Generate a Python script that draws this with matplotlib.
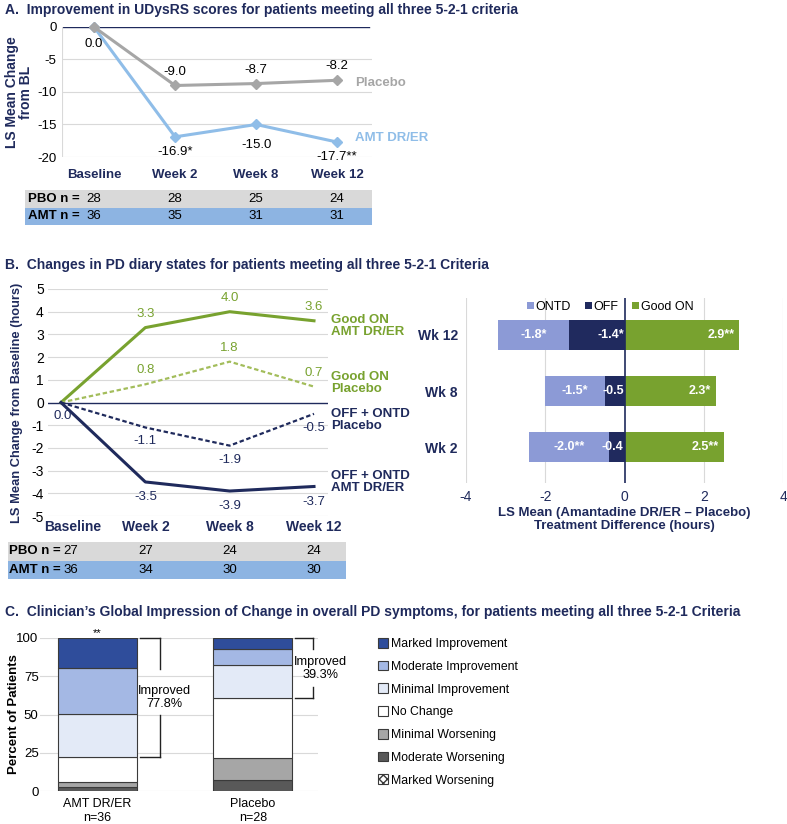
import matplotlib
matplotlib.use("Agg")
import matplotlib.pyplot as plt
import matplotlib.transforms as mtransforms
from matplotlib.patches import Patch
import numpy as np

plt.rcParams['font.family'] = ['Liberation Sans', 'DejaVu Sans']

#%% data
weeks = ['Baseline', 'Week 2', 'Week 8', 'Week 12']

# A. UDysRS
udysrs_pbo = [0.0, -9.0, -8.7, -8.2]
udysrs_amt = [0.0, -16.9, -15.0, -17.7]
udysrs_amt_sig = ['', '*', '', '**']
udysrs_n_pbo = [28, 28, 25, 24]
udysrs_n_amt = [36, 35, 31, 31]

# B. PD diary
goodon_amt = [0.0, 3.3, 4.0, 3.6]
goodon_pbo = [0.0, 0.8, 1.8, 0.7]
offontd_pbo = [0.0, -1.1, -1.9, -0.5]
offontd_amt = [0.0, -3.5, -3.9, -3.7]
diary_n_pbo = [27, 27, 24, 24]
diary_n_amt = [36, 34, 30, 30]

diff_weeks = ['Wk 2', 'Wk 8', 'Wk 12']
diff_ontd = [-2.0, -1.5, -1.8]
diff_off = [-0.4, -0.5, -1.4]
diff_goodon = [2.5, 2.3, 2.9]
diff_ontd_sig = ['**', '*', '*']
diff_off_sig = ['', '', '*']
diff_goodon_sig = ['**', '*', '**']

# C. CGI-C
cgic_groups = ['AMT DR/ER\nn=36', 'Placebo\nn=28']
cgic_categories = ['Marked Worsening', 'Moderate Worsening', 'Minimal Worsening', 'No Change',
                   'Minimal Improvement', 'Moderate Improvement', 'Marked Improvement']
cgic_amt = [0.0, 2.8, 2.8, 16.7, 27.8, 30.6, 19.4]
cgic_pbo = [0.0, 7.1, 14.3, 39.3, 21.4, 10.7, 7.1]
improved_pct = [77.8, 39.3]

#%% styles
navy = '#1f2a5c'
grid_c = '#d9d9d9'
pbo_gray = '#a6a6a6'
amt_blue = '#8fbde8'
row_gray = '#d9d9d9'
row_blue = '#8db4e2'
green = '#78a22f'
green_lt = '#a3bd5b'
ontd_c = '#8c9ad6'
off_c = '#202a5e'
cgic_colors = ['white', '#595959', '#a6a6a6', 'white', '#e3eaf7', '#a4b8e4', '#2f4d9b']
cgic_hatch = ['xxxx', None, None, None, None, None, None]

W, H = 787, 824
fig = plt.figure(figsize=(W / 100, H / 100), dpi=100)


def px_axes(x0, y0, x1, y1):
    ax = fig.add_axes([x0 / W, 1 - y1 / H, (x1 - x0) / W, (y1 - y0) / H])
    for s in ax.spines.values():
        s.set_visible(False)
    return ax


def fig_text(x, y, s, **kw):
    fig.text(x / W, 1 - y / H, s, **kw)


x = np.arange(len(weeks))

#%% Panel A
fig_text(5, 10, 'A.  Improvement in UDysRS scores for patients meeting all three 5-2-1 criteria',
         fontsize=10, fontweight='bold', color=navy, va='center')

axA = px_axes(62, 27, 372, 157)
axA.set_xlim(-0.395, 3.43)
axA.set_ylim(-20, 0)
axA.set_yticks([0, -5, -10, -15, -20])
axA.set_yticklabels(['0', '-5', '-10', '-15', '-20'], fontsize=9.5)
for v in [-5, -10, -15, -20]:
    axA.axhline(v, color=grid_c, lw=0.8, zorder=0)
axA.axhline(0, color=navy, lw=1, zorder=1, xmax=0.99)
axA.axvline(-0.395, color=grid_c, lw=0.8)
axA.tick_params(axis='y', length=0, pad=4)
axA.tick_params(axis='x', length=0, pad=9)
axA.set_xticks(x)
axA.set_xticklabels(weeks, fontsize=9.5, fontweight='bold', color=navy)
axA.plot(x, udysrs_amt, color=amt_blue, lw=2.2, marker='D', ms=5, clip_on=False, zorder=3)
axA.plot(x, udysrs_pbo, color=pbo_gray, lw=2.2, marker='D', ms=5, clip_on=False, zorder=4)
axA.annotate('0.0', (0, 0), xytext=(0, -12), textcoords='offset points',
             ha='center', va='center', fontsize=9.5)
for i in range(1, 4):
    axA.annotate(f'{udysrs_pbo[i]:.1f}', (i, udysrs_pbo[i]), xytext=(0, 10),
                 textcoords='offset points', ha='center', va='center', fontsize=9.5)
    off = -11 if i != 2 else -15
    axA.annotate(f'{udysrs_amt[i]:.1f}{udysrs_amt_sig[i]}', (i, udysrs_amt[i]), xytext=(0, off),
                 textcoords='offset points', ha='center', va='center', fontsize=9.5)
axA.text(3.22, -8.6, 'Placebo', color=pbo_gray, fontsize=9.5, fontweight='bold', va='center')
axA.text(3.22, -17.1, 'AMT DR/ER', color=amt_blue, fontsize=9.5, fontweight='bold', va='center')
axA.set_ylabel('LS Mean Change\nfrom BL', fontsize=10, fontweight='bold', color=navy,
               linespacing=1.0)
axA.yaxis.set_label_coords(-0.094, 0.5)

# n table A
axTA = px_axes(25, 190, 372, 225)
axTA.set_xlim(-0.852, 3.43)
axTA.set_ylim(0, 2)
axTA.set_xticks([])
axTA.set_yticks([])
axTA.axhspan(1, 2, color=row_gray, lw=0)
axTA.axhspan(0, 1, color=row_blue, lw=0)
axTA.text(-0.82, 1.5, 'PBO n =', fontsize=9.5, fontweight='bold', va='center')
axTA.text(-0.82, 0.5, 'AMT n =', fontsize=9.5, fontweight='bold', va='center')
for i in range(4):
    axTA.text(i, 1.5, str(udysrs_n_pbo[i]), fontsize=9.5, ha='center', va='center')
    axTA.text(i, 0.5, str(udysrs_n_amt[i]), fontsize=9.5, ha='center', va='center')

#%% Panel B (left)
fig_text(5, 265, 'B.  Changes in PD diary states for patients meeting all three 5-2-1 Criteria',
         fontsize=10, fontweight='bold', color=navy, va='center')

axB = px_axes(48, 289, 328, 516)
axB.set_xlim(-0.154, 3.166)
axB.set_ylim(-5, 5)
yt = np.arange(-5, 6)
axB.set_yticks(yt)
axB.set_yticklabels([str(v) for v in yt], fontsize=10)
for v in yt:
    if v != 0:
        axB.axhline(v, color=grid_c, lw=0.8, zorder=0)
axB.axhline(0, color=navy, lw=1, zorder=1)
axB.tick_params(length=0, pad=3)
axB.set_xticks(x)
axB.set_xticklabels(weeks, fontsize=10, fontweight='bold', color=navy)
lbl0 = axB.get_xticklabels()[0]
lbl0.set_transform(lbl0.get_transform() + mtransforms.ScaledTranslation(12 / 100, 0, fig.dpi_scale_trans))
axB.set_ylabel('LS Mean Change from Baseline (hours)', fontsize=9.3, fontweight='bold',
               color=navy)
axB.yaxis.set_label_coords(-0.089, 0.5)

axB.plot(x, goodon_amt, color=green, lw=2.2, clip_on=False, zorder=3)
axB.plot(x, goodon_pbo, color=green_lt, lw=1.6, ls=(0, (2, 1.2)), clip_on=False, zorder=3)
axB.plot(x, offontd_pbo, color=navy, lw=1.6, ls=(0, (2, 1.2)), clip_on=False, zorder=3)
axB.plot(x, offontd_amt, color=navy, lw=2.2, clip_on=False, zorder=3)
axB.annotate('0.0', (0, 0), xytext=(1, -10), textcoords='offset points',
             ha='center', va='center', fontsize=9.5, color=navy)
for i in range(1, 4):
    axB.annotate(f'{goodon_amt[i]:.1f}', (i, goodon_amt[i]), xytext=(0, 10),
                 textcoords='offset points', ha='center', va='center', fontsize=9.5, color=green)
    axB.annotate(f'{goodon_pbo[i]:.1f}', (i, goodon_pbo[i]), xytext=(0, 10),
                 textcoords='offset points', ha='center', va='center', fontsize=9.5, color=green)
    axB.annotate(f'{offontd_pbo[i]:.1f}', (i, offontd_pbo[i]), xytext=(0, -10),
                 textcoords='offset points', ha='center', va='center', fontsize=9.5, color=navy)
    axB.annotate(f'{offontd_amt[i]:.1f}', (i, offontd_amt[i]), xytext=(0, -11),
                 textcoords='offset points', ha='center', va='center', fontsize=9.5, color=navy)
axB.text(3.2, 3.37, 'Good ON\nAMT DR/ER', color=green, fontsize=9.5, fontweight='bold',
         va='center', linespacing=1.05)
axB.text(3.2, 0.86, 'Good ON\nPlacebo', color=green, fontsize=9.5, fontweight='bold',
         va='center', linespacing=1.05)
axB.text(3.2, -0.77, 'OFF + ONTD\nPlacebo', color=navy, fontsize=9.5, fontweight='bold',
         va='center', linespacing=1.05)
axB.text(3.2, -3.5, 'OFF + ONTD\nAMT DR/ER', color=navy, fontsize=9.5, fontweight='bold',
         va='center', linespacing=1.05)

# n table B
axTB = px_axes(8, 542, 346, 579)
axTB.set_xlim(-0.629, 3.38)
axTB.set_ylim(0, 2)
axTB.set_xticks([])
axTB.set_yticks([])
axTB.axhspan(1, 2, color=row_gray, lw=0)
axTB.axhspan(0, 1, color=row_blue, lw=0)
axTB.text(-0.62, 1.5, 'PBO n =', fontsize=9.5, fontweight='bold', va='center')
axTB.text(-0.62, 0.5, 'AMT n =', fontsize=9.5, fontweight='bold', va='center')
for i in range(4):
    xi = 0.03 if i == 0 else i
    ha = 'left' if i == 0 else 'center'
    axTB.text(xi, 1.5, str(diary_n_pbo[i]), fontsize=9.5, ha=ha, va='center')
    axTB.text(xi, 0.5, str(diary_n_amt[i]), fontsize=9.5, ha=ha, va='center')

#%% Panel B (right) treatment differences
axD = px_axes(466, 298, 783, 483)
yb = np.arange(len(diff_weeks))
axD.set_xlim(-4, 4)
axD.set_ylim(-0.64, 2.66)
for v in [-4, -2, 2, 4]:
    axD.axvline(v, color=grid_c, lw=0.8, zorder=0)
axD.axvline(0, color=navy, lw=1.2, zorder=4)
bh = 0.53
axD.barh(yb, diff_off, height=bh, color=off_c, label='OFF', zorder=2)
axD.barh(yb, diff_ontd, left=diff_off, height=bh, color=ontd_c, label='ONTD', zorder=2)
axD.barh(yb, diff_goodon, height=bh, color=green, label='Good ON', zorder=2)
for i in range(len(yb)):
    axD.text(diff_off[i] + diff_ontd[i] / 2, yb[i], f'{diff_ontd[i]:.1f}{diff_ontd_sig[i]}',
             color='white', fontsize=9, fontweight='bold', ha='center', va='center', zorder=5)
    axD.text(-0.02, yb[i], f'{diff_off[i]:.1f}{diff_off_sig[i]}',
             color='white', fontsize=9, fontweight='bold', ha='right', va='center', zorder=5)
    axD.text(diff_goodon[i] - 0.12, yb[i], f'{diff_goodon[i]:.1f}{diff_goodon_sig[i]}',
             color='white', fontsize=9, fontweight='bold', ha='right', va='center', zorder=5)
axD.set_yticks(yb)
axD.set_yticklabels(diff_weeks, fontsize=10, fontweight='bold', color=navy)
axD.set_xticks([-4, -2, 0, 2, 4])
axD.set_xticklabels(['-4', '-2', '0', '2', '4'], fontsize=10, color=navy)
axD.tick_params(length=0, pad=5)
axD.tick_params(axis='y', pad=6)
axD.set_xlabel('LS Mean (Amantadine DR/ER \u2013 Placebo)\nTreatment Difference (hours)',
               fontsize=9.5, fontweight='bold', color=navy, labelpad=2, linespacing=1.1)
h, l = axD.get_legend_handles_labels()
order = [1, 0, 2]
axD.legend([h[k] for k in order], [l[k] for k in order], loc='upper center',
           bbox_to_anchor=(0.455, 1.045), ncol=3, frameon=False, fontsize=9,
           handlelength=0.55, handleheight=0.55, handletextpad=0.15, columnspacing=1.1)

#%% Panel C
fig_text(5, 612, 'C.  Clinician\u2019s Global Impression of Change in overall PD symptoms, '
         'for patients meeting all three 5-2-1 Criteria',
         fontsize=10, fontweight='bold', color=navy, va='center')

axC = px_axes(40, 638, 318, 791)
axC.set_xlim(-0.371, 1.42)
axC.set_ylim(0, 100)
for v in [0, 25, 50, 75, 100]:
    axC.axhline(v, color=grid_c, lw=0.8, zorder=0)
axC.set_yticks([0, 25, 50, 75, 100])
axC.set_yticklabels(['0', '25', '50', '75', '100'], fontsize=9.5)
axC.tick_params(axis='y', length=0, pad=1)
axC.tick_params(axis='x', length=0, pad=5)
xc = np.arange(len(cgic_groups))
axC.set_xticks(xc)
axC.set_xticklabels(cgic_groups, fontsize=9)
axC.set_ylabel('Percent of Patients', fontsize=9.5, fontweight='bold')
axC.yaxis.set_label_coords(-0.072, 0.5)

bottoms = np.zeros(len(xc))
cgic_vals = np.array([cgic_amt, cgic_pbo])
for k, cat in enumerate(cgic_categories):
    vals = cgic_vals[:, k]
    axC.bar(xc, vals, bottom=bottoms, width=0.51, color=cgic_colors[k],
            edgecolor='#3a3a3a', lw=0.8, hatch=cgic_hatch[k], zorder=2)
    bottoms += vals

axC.text(0, 103, '**', ha='center', va='center', fontsize=8)

# improved brackets
br_kw = dict(color='#222222', lw=1, clip_on=False)
for gi, (x0, x1, gap_top, gap_bot, tx, ty) in enumerate([(0.274, 0.403, 80, 50, 0.43, 61),
                                                         (1.274, 1.39, 93, 68, 1.435, 80)]):
    top = 100
    bot = 100 - improved_pct[gi]
    axC.plot([x0, x1], [top, top], **br_kw)
    axC.plot([x0, x1], [bot, bot], **br_kw)
    axC.plot([x1, x1], [top, gap_top], **br_kw)
    axC.plot([x1, x1], [gap_bot, bot], **br_kw)
    axC.text(tx, ty, f'Improved\n{improved_pct[gi]}%', ha='center', va='center',
             fontsize=9.2, linespacing=1.1, zorder=5)

leg_handles = [Patch(facecolor=cgic_colors[k], edgecolor='#3a3a3a', lw=0.8, hatch=cgic_hatch[k],
                     label=cgic_categories[k]) for k in range(len(cgic_categories))][::-1]
fig.legend(handles=leg_handles, loc='upper left', bbox_to_anchor=(367 / W, 1 - 627 / H),
           frameon=False, fontsize=8.8, handlelength=0.85, handleheight=0.85,
           handletextpad=0.25, labelspacing=0.87)

fig.savefig('out.png', dpi=100)
